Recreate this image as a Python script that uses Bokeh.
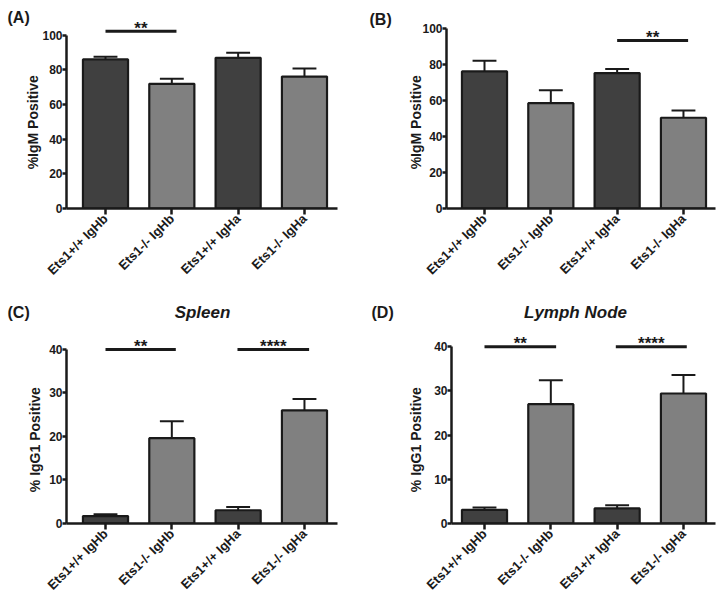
import numpy as np
from bokeh.plotting import figure
from bokeh.layouts import row, column
from bokeh.models import Range1d, FixedTicker, Label
from bokeh.core.properties import value
from bokeh.embed import file_html
from bokeh.resources import INLINE

# ---------------- data ----------------
categories = ["Ets1+/+ IgHb", "Ets1-/- IgHb", "Ets1+/+ IgHa", "Ets1-/- IgHa"]
bar_colors = ["#404040", "#808080", "#404040", "#808080"]

a_mean = [86.1, 72.0, 87.0, 76.2]
a_err = [1.5, 3.0, 2.9, 4.6]
a_sig_from = [1.0]
a_sig_to = [2.07]
a_sig_y = [102.3]
a_sig_text = ["**"]

b_mean = [76.1, 58.5, 75.2, 50.4]
b_err = [5.9, 7.2, 2.2, 4.0]
b_sig_from = [3.0]
b_sig_to = [4.07]
b_sig_y = [93.3]
b_sig_text = ["**"]

c_mean = [1.7, 19.6, 3.05, 26.0]
c_err = [0.4, 3.9, 0.75, 2.6]
c_sig_from = [1.0, 2.99]
c_sig_to = [2.06, 4.07]
c_sig_y = [40, 40]
c_sig_text = ["**", "****"]

d_mean = [3.1, 27.0, 3.4, 29.4]
d_err = [0.5, 5.4, 0.7, 4.2]
d_sig_from = [1.0, 2.98]
d_sig_to = [2.08, 4.05]
d_sig_y = [40, 40]
d_sig_text = ["**", "****"]

igm_ticks = [0, 20, 40, 60, 80, 100]
igg_ticks = [0, 10, 20, 30, 40]

FONT = "Liberation Sans"
INK = "#1a1a1a"
NBSP = "\u00a0"


def page_to_data(s, px, py):
    fl = s["fx"] + s["L"]
    ft = s["fy"] + s["T"]
    fw = s["W"] - s["L"] - s["R"]
    fh = s["H"] - s["T"] - s["B"]
    x0, x1 = s["xr"]
    y1 = s["y1"]
    return x0 + (px - fl) / fw * (x1 - x0), y1 - (py - ft) / fh * y1


def make_panel(s, letter, title, ylabel, means, errs, yticks,
               sig_from, sig_to, sig_y, sig_text):
    p = figure(width=s["W"], height=s["H"], output_backend="svg",
               toolbar_location=None, x_range=Range1d(*s["xr"]),
               y_range=Range1d(0, s["y1"]), min_border_left=s["L"],
               min_border_right=s["R"], min_border_top=s["T"],
               min_border_bottom=s["B"])
    p.outline_line_color = None
    p.xgrid.visible = False
    p.ygrid.visible = False

    xs = np.arange(1, len(categories) + 1, dtype=float)
    means = np.array(means, dtype=float)
    tops = means + np.array(errs, dtype=float)

    p.vbar(x=xs, top=means, bottom=0, width=0.68, fill_color=bar_colors,
           line_color=INK, line_width=2.2)
    p.segment(x0=xs, y0=means, x1=xs, y1=tops, line_color=INK, line_width=2)
    p.segment(x0=xs - 0.18, y0=tops, x1=xs + 0.18, y1=tops,
              line_color=INK, line_width=2)

    p.segment(x0=sig_from, y0=sig_y, x1=sig_to, y1=sig_y,
              line_color=INK, line_width=3)
    mid = [(a + b) / 2 for a, b in zip(sig_from, sig_to)]
    p.text(x=mid, y=sig_y, text=sig_text, text_align="center",
           text_baseline="alphabetic", y_offset=-3,
           text_font=value(FONT), text_font_style="bold",
           text_font_size="17px", text_color=INK)

    # axes
    for ax in (p.xaxis[0], p.yaxis[0]):
        ax.axis_line_width = 2.5
        ax.axis_line_color = INK
        ax.major_tick_line_width = 2.5
        ax.major_tick_line_color = INK
        ax.major_tick_in = 0
        ax.minor_tick_line_color = None
        ax.major_label_text_font = FONT
        ax.major_label_text_font_style = "bold"
        ax.major_label_text_color = INK
        ax.major_label_text_font_size = "12px"

    p.yaxis.ticker = FixedTicker(ticks=yticks)
    p.yaxis.bounds = (yticks[0], yticks[-1])
    p.yaxis.major_tick_out = 4
    p.yaxis.major_label_standoff = 0
    # trailing no-break spaces centre the label on the drawn axis span
    p.yaxis.axis_label = ylabel + NBSP * s["pad"]
    p.yaxis.axis_label_text_font = FONT
    p.yaxis.axis_label_text_font_style = "bold"
    p.yaxis.axis_label_text_font_size = "14px"
    p.yaxis.axis_label_text_color = INK
    p.yaxis.axis_label_standoff = s["ls"]

    p.xaxis.ticker = FixedTicker(ticks=list(xs))
    p.xaxis.major_label_overrides = {int(x): c for x, c in zip(xs, categories)}
    p.xaxis.major_label_text_font_size = "13px"
    p.xaxis.major_tick_out = 6
    p.xaxis.major_label_standoff = 2
    p.xaxis.major_label_orientation = np.pi / 4

    lx, ly = page_to_data(s, *s["letter_at"])
    p.add_layout(Label(x=lx, y=ly, text=letter, text_font=FONT,
                       text_font_style="bold", text_font_size="16px",
                       text_align="left", text_baseline="top",
                       text_color=INK), s["letter_side"])
    if title:
        tx, ty = page_to_data(s, *s["title_at"])
        p.add_layout(Label(x=tx, y=ty, text=title, text_font=FONT,
                           text_font_style="bold italic",
                           text_font_size="17px", text_align="center",
                           text_baseline="top", text_color=INK), "above")
    return p


spec_a = dict(fx=0, fy=0, W=362, H=302, L=66, R=25, T=20, B=92,
              xr=(0.412, 4.498), y1=108.57, ls=-2, pad=4, letter_at=(7, 8),
              letter_side="above")
spec_b = dict(fx=362, fy=0, W=362, H=302, L=84, R=9, T=20, B=94,
              xr=(0.427, 4.483), y1=104.4, ls=-5, pad=4, letter_at=(369, 10),
              letter_side="above")
spec_c = dict(fx=0, fy=302, W=362, H=301, L=66, R=25, T=30, B=79,
              xr=(0.412, 4.498), y1=43.89, ls=3, pad=6, letter_at=(7, 303),
              letter_side="left", title_at=(202, 302))
spec_d = dict(fx=362, fy=302, W=362, H=301, L=89, R=9, T=30, B=80,
              xr=(0.5025, 4.483), y1=43.2, ls=7, pad=6, letter_at=(371, 303),
              letter_side="left", title_at=(575, 302))

pa = make_panel(spec_a, "(A)", None, "%IgM Positive", a_mean, a_err,
                igm_ticks, a_sig_from, a_sig_to, a_sig_y, a_sig_text)
pb = make_panel(spec_b, "(B)", None, "%IgM Positive", b_mean, b_err,
                igm_ticks, b_sig_from, b_sig_to, b_sig_y, b_sig_text)
pc = make_panel(spec_c, "(C)", "Spleen", "% IgG1 Positive", c_mean, c_err,
                igg_ticks, c_sig_from, c_sig_to, c_sig_y, c_sig_text)
pd_ = make_panel(spec_d, "(D)", "Lymph Node", "% IgG1 Positive", d_mean, d_err,
                 igg_ticks, d_sig_from, d_sig_to, d_sig_y, d_sig_text)

layout = column(row(pa, pb), row(pc, pd_))
open("out.html", "w").write(file_html(layout, INLINE))
